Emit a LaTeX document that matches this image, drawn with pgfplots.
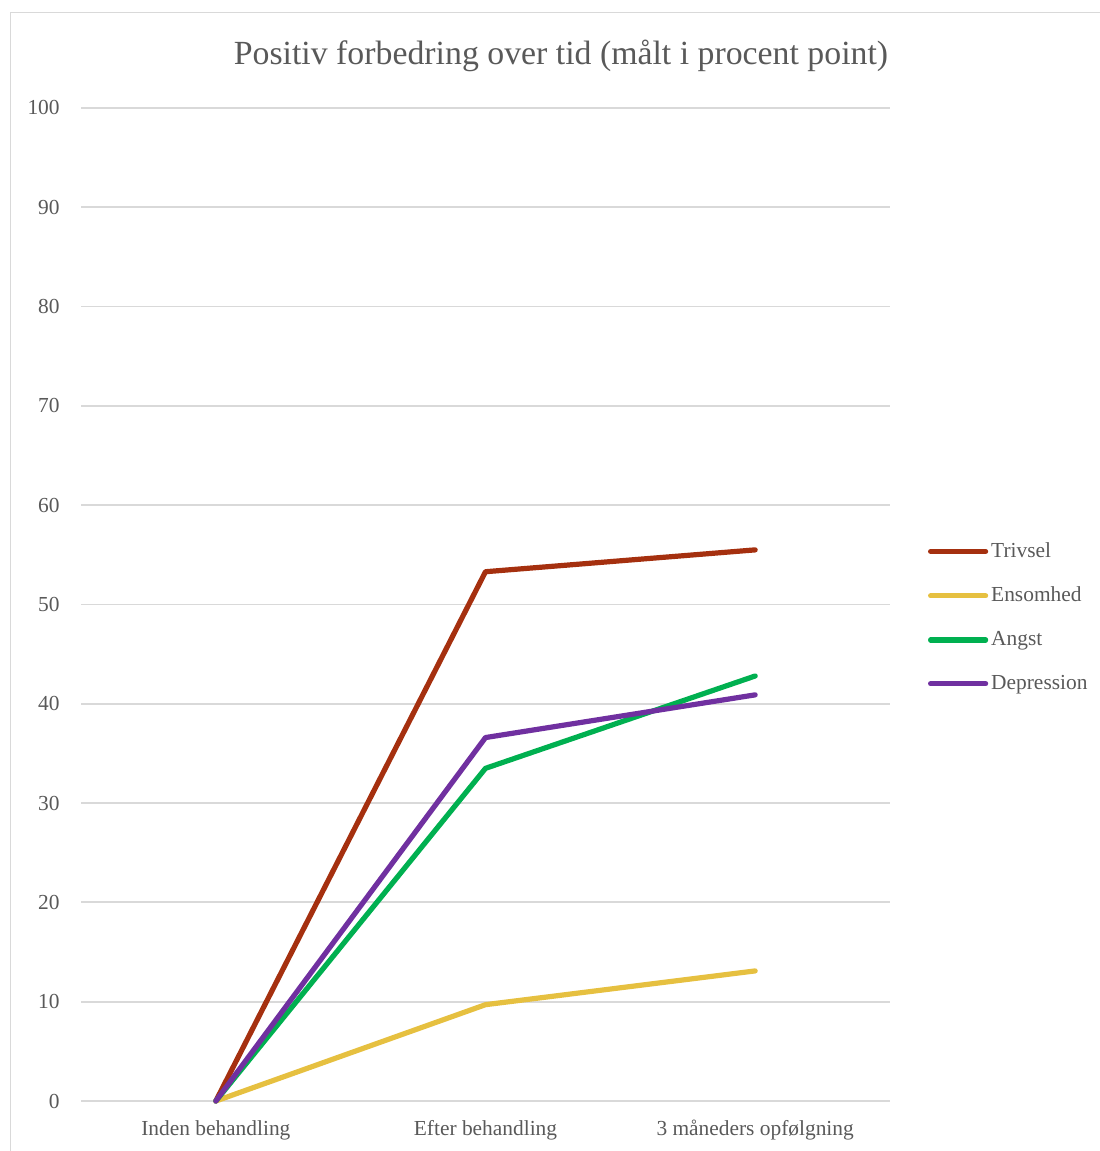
\documentclass[border=0pt]{standalone}
\usepackage{pgfplots}
\pgfplotsset{compat=1.18}
\usepackage{fontspec}
\setmainfont{Liberation Serif}
\definecolor{txt}{HTML}{595959}
\definecolor{gridc}{HTML}{D9D9D9}
\definecolor{cTri}{HTML}{A5300F}
\definecolor{cEns}{HTML}{E6C040}
\definecolor{cAng}{HTML}{00B050}
\definecolor{cDep}{HTML}{7030A0}
\begin{document}
\begin{tikzpicture}
\useasboundingbox (0pt,0pt) rectangle (549.5pt,575.5pt);
\draw[gridc, line width=0.8pt] (5.25pt,-5pt) -- (5.25pt,569.25pt) -- (555pt,569.25pt);
\node[txt, font=\fontsize{16.9}{18}\selectfont, anchor=base, inner sep=0pt] at (280.5pt,543pt) {Positiv forbedring over tid (målt i procent point)};
\begin{axis}[
  at={(40.5pt,25pt)}, anchor=south west,
  scale only axis, width=404.5pt, height=496.5pt,
  xmin=-0.5, xmax=2.5, ymin=0, ymax=100,
  xtick={0,1,2},
  xticklabels={Inden behandling, Efter behandling, 3 måneders opfølgning},
  ytick={0,10,...,100},
  axis line style={draw=none},
  major tick length=0pt,
  ymajorgrids,
  grid style={gridc, line width=0.9pt},
  ticklabel style={font=\fontsize{10.7}{12}\selectfont, text=txt},
  /pgf/number format/assume math mode=true,
  yticklabel style={inner sep=0pt, anchor=east, xshift=-10.5pt},
  xticklabel style={inner sep=0pt, anchor=north, yshift=-9.5pt},
  clip=false,
  legend style={at={(1.0465,0.487)}, anchor=west, draw=none, fill=none, inner sep=0pt,
    font=\fontsize{10.7}{12}\selectfont, text=txt, row sep=10.3pt,
    nodes={inner sep=1.5pt}},
  legend cell align=left,
  legend image code/.code={\draw[#1, line cap=round] (0pt,0pt) -- (27.5pt,0pt);},
  every axis plot/.append style={line width=2.6pt, line cap=round, line join=round, mark=none},
]
\addplot[cTri] coordinates {(0,0) (1,53.3) (2,55.5)};
\addlegendentry{Trivsel}
\addplot[cEns] coordinates {(0,0) (1,9.7) (2,13.1)};
\addlegendentry{Ensomhed}
\addplot[cAng] coordinates {(0,0) (1,33.5) (2,42.8)};
\addlegendentry{Angst}
\addplot[cDep] coordinates {(0,0) (1,36.6) (2,40.9)};
\addlegendentry{Depression}
\end{axis}
\end{tikzpicture}
\end{document}
